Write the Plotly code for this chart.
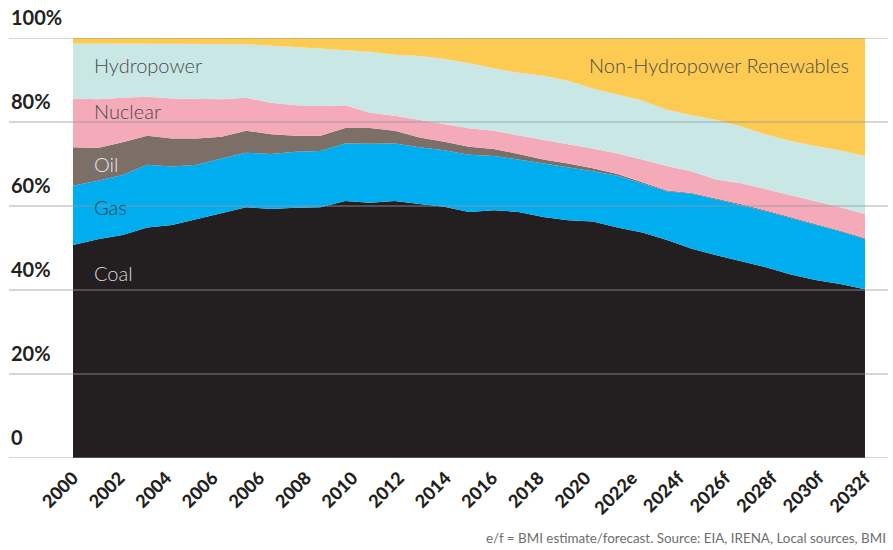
import plotly.graph_objects as go

# x positions (one per year 2000..2032)
idx = list(range(33))

# tick labels exactly as printed on the reference (18 evenly spaced labels)
tick_labels = ["2000", "2002", "2004", "2006", "2006", "2008", "2010", "2012", "2014",
               "2016", "2018", "2020", "2022e", "2024f", "2026f", "2028f", "2030f", "2032f"]

# shares of generation, %
coal = [50.7, 52.1, 53.1, 54.9, 55.5, 56.9, 58.3, 59.7, 59.3, 59.6, 59.7, 61.2, 60.8,
        61.2, 60.5, 59.8, 58.6, 59.0, 58.6, 57.4, 56.6, 56.3, 54.9, 53.7, 51.9, 49.8,
        48.3, 46.9, 45.4, 43.7, 42.4, 41.4, 40.2]
gas = [14.1, 13.9, 14.3, 14.9, 13.9, 12.9, 13.0, 13.0, 13.1, 13.3, 13.4, 13.7, 14.0,
       13.7, 13.5, 13.5, 13.6, 12.9, 12.5, 12.8, 12.6, 12.0, 12.3, 11.7, 11.6, 13.1,
       13.3, 13.3, 13.3, 13.4, 13.1, 12.5, 11.9]
oil = [9.2, 7.8, 7.8, 6.9, 6.7, 6.3, 5.2, 5.2, 4.7, 3.8, 3.6, 3.7, 3.8, 3.0, 2.3, 2.0,
       1.9, 1.7, 1.3, 0.9, 0.9, 0.7, 0.4, 0.2, 0.2, 0.2, 0.2, 0.2, 0.2, 0.2, 0.2, 0.2, 0.2]
nuclear = [11.6, 11.6, 10.6, 9.3, 9.5, 9.4, 8.9, 7.9, 7.5, 7.3, 7.1, 5.4, 3.6, 3.6,
           4.2, 4.1, 4.4, 4.3, 4.4, 4.7, 4.6, 4.7, 4.9, 5.5, 5.8, 5.1, 4.5, 5.0, 5.1,
           5.2, 5.4, 5.6, 5.8]
hydro = [13.1, 13.3, 12.9, 12.7, 13.1, 13.2, 13.2, 12.7, 13.6, 13.8, 13.7, 13.1, 14.5,
         14.5, 15.2, 15.6, 15.5, 14.9, 14.9, 15.2, 15.1, 14.3, 14.1, 14.0, 13.4, 13.4,
         14.2, 13.5, 13.0, 13.0, 13.2, 13.5, 13.8]
non_hydro = [1.3, 1.3, 1.3, 1.3, 1.3, 1.3, 1.4, 1.5, 1.8, 2.2, 2.5, 2.9, 3.3, 4.0, 4.3,
             5.0, 6.0, 7.2, 8.3, 9.0, 10.2, 12.0, 13.4, 14.9, 17.1, 18.4, 19.5, 21.1,
             23.0, 24.5, 25.7, 26.8, 28.1]

series = [
    ("Coal", coal, "#231f20"),
    ("Gas", gas, "#00aeef"),
    ("Oil", oil, "#7b6f67"),
    ("Nuclear", nuclear, "#f5aab9"),
    ("Hydropower", hydro, "#c9e8e5"),
    ("Non-Hydropower Renewables", non_hydro, "#fecb52"),
]

y_ticks = [0, 20, 40, 60, 80, 100]
y_tick_text = ["0", "20%", "40%", "60%", "80%", "100%"]

fig = go.Figure()
for name, vals, col in series:
    fig.add_trace(go.Scatter(
        x=idx, y=vals, name=name, mode="lines", stackgroup="one",
        line=dict(width=0, color=col), fillcolor=col, hoverinfo="skip",
    ))

n_lab = len(tick_labels)
tickvals = [i * (len(idx) - 1) / (n_lab - 1) for i in range(n_lab)]

label_font = "Lato, 'Source Sans Pro', 'Open Sans', sans-serif"

fig.update_layout(
    width=893, height=550,
    margin=dict(l=9, r=5, t=38, b=92),
    paper_bgcolor="white", plot_bgcolor="white",
    showlegend=False,
    xaxis=dict(
        range=[-2.586, 32.93], showgrid=False, zeroline=False, showline=False,
        tickmode="array", tickvals=tickvals, ticktext=tick_labels, tickangle=-45,
        tickfont=dict(family=label_font, size=18, color="#231f20", weight=900),
        ticks="", ticklabelstandoff=5,
    ),
    yaxis=dict(range=[0, 100], showgrid=False, zeroline=False, showline=False,
               showticklabels=False),
)

# gridlines drawn above the areas
for v in y_ticks:
    fig.add_shape(type="line", xref="paper", yref="y", x0=0, x1=1, y0=v, y1=v,
                  line=dict(color="rgba(150,150,162,0.8)", width=1), layer="above")

# y tick labels sitting above the gridlines
for v, t in zip(y_ticks, y_tick_text):
    fig.add_annotation(xref="paper", yref="y", x=0, y=v, text=t, showarrow=False,
                       xanchor="left", yanchor="bottom", yshift=7,
                       font=dict(family=label_font, size=20, color="#231f20", weight="bold"))

# in-chart series labels
inner = [
    ("Hydropower", 0.77, 93.6, "left", "#4a4a4a"),
    ("Nuclear", 0.77, 82.6, "left", "#4a4a4a"),
    ("Oil", 0.77, 70.0, "left", "#e6e6e6"),
    ("Gas", 0.77, 59.8, "left", "#1b3f55"),
    ("Coal", 0.77, 44.0, "left", "#d9d9d9"),
    ("Non-Hydropower Renewables", 31.45, 93.6, "right", "#4a4a4a"),
]
for t, x, y, anc, col in inner:
    fig.add_annotation(xref="x", yref="y", x=x, y=y, text=t, showarrow=False,
                       xanchor=anc, yanchor="middle",
                       font=dict(family=label_font, size=20, color=col, weight=300))

fig.add_annotation(xref="paper", yref="paper", x=1.0, y=-0.19,
                   text="e/f = BMI estimate/forecast. Source: EIA, IRENA, Local sources, BMI",
                   showarrow=False, xanchor="right", yanchor="middle",
                   font=dict(family=label_font, size=13.4, color="#6d6e71"))

fig.write_html("out.html",
               config={"displayModeBar": False},
               post_script="document.body.style.margin='0';document.body.style.padding='0';")
